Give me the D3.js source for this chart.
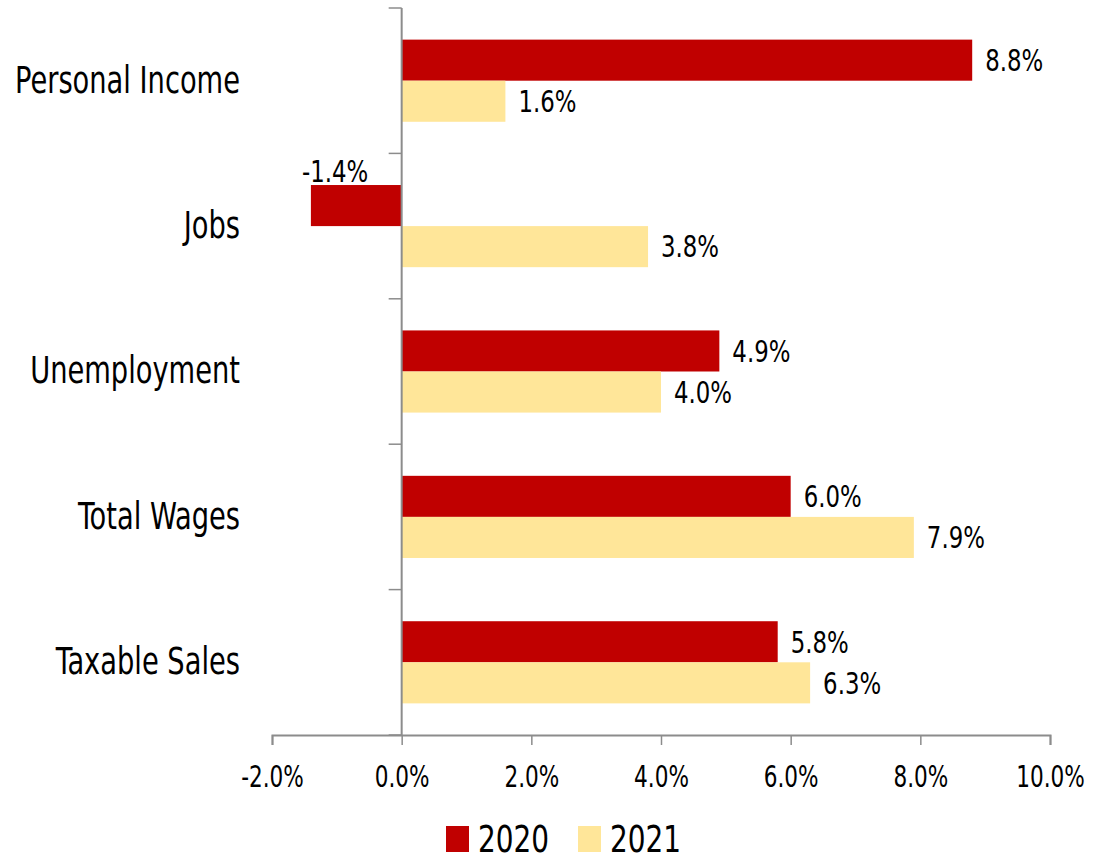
<!DOCTYPE html>
<html lang="en">
<head>
	<meta charset="UTF-8">
	<title>Economic indicators</title>
	<style type="text/css">
		body { margin: 0; background: #fff; }
		svg text { font-family: "DejaVu Sans Condensed", "Liberation Sans Narrow", sans-serif; fill: #000; }
	</style>
</head>
<body>
	<script type="text/javascript" src="https://cdn.jsdelivr.net/npm/d3@7/dist/d3.min.js"></script>
	<script type="text/javascript">
		var categories = ['Personal Income', 'Jobs', 'Unemployment', 'Total Wages', 'Taxable Sales'];
		var series = ['2020', '2021'];
		var values2020 = [8.8, -1.4, 4.9, 6.0, 5.8];
		var values2021 = [1.6, 3.8, 4.0, 7.9, 6.3];
		var xTicks = [-2, 0, 2, 4, 6, 8, 10];
		var colors = ['#c00000', '#ffe699'];

		var w = 1101;
		var h = 854;

		// the original font is a narrow one, squeeze the text horizontally
		function squeeze(sel, sx) {
			sel.each(function () {
				var t = d3.select(this);
				var tx = +t.attr('x') || 0;
				var ty = +t.attr('y') || 0;
				t.attr('x', 0).attr('y', 0)
				 .attr('transform', 'translate(' + tx + ',' + ty + ') scale(' + sx + ',1)');
			});
		}

		var svg = d3.select('body')
					.append('svg')
					.attr('width', w)
					.attr('height', h);

		var x = d3.scaleLinear().domain([-2, 10]).range([272, 1050]);
		var y = d3.scaleBand().domain(categories).range([8, 735]).paddingInner(0.435).paddingOuter(0.2175);
		var ySub = d3.scaleBand().domain(series).range([0, y.bandwidth()]);

		var rows = categories.map(function (c, i) {
			return {cat: c, vals: [values2020[i], values2021[i]]};
		});

		// x axis
		var xAxis = d3.axisBottom(x)
					.tickValues(xTicks)
					.tickSize(10)
					.tickFormat(function (d) { return d.toFixed(1) + '%'; });
		var gx = svg.append('g')
					.attr('transform', 'translate(0,735)')
					.call(xAxis);
		gx.select('.domain').attr('stroke', '#8c8c8c').attr('stroke-width', 2);
		gx.selectAll('.tick line').attr('stroke', '#8c8c8c').attr('stroke-width', 1.5);
		gx.selectAll('.tick text')
			.attr('font-size', '30px')
			.attr('y', 41)
			.attr('dy', '0.35em');
		squeeze(gx.selectAll('.tick text'), 0.8);

		// bars
		var groups = svg.selectAll('g.row')
					.data(rows)
					.enter()
					.append('g')
					.attr('class', 'row')
					.attr('transform', function (d) { return 'translate(0,' + y(d.cat) + ')'; });

		groups.selectAll('rect')
			.data(function (d) { return d.vals; })
			.enter()
			.append('rect')
			.attr('x', function (d) { return x(Math.min(0, d)); })
			.attr('y', function (d, i) { return ySub(series[i]); })
			.attr('width', function (d) { return Math.abs(x(d) - x(0)); })
			.attr('height', ySub.bandwidth())
			.attr('fill', function (d, i) { return colors[i]; });

		var vals = groups.selectAll('text.val')
			.data(function (d) { return d.vals; })
			.enter()
			.append('text')
			.attr('class', 'val')
			.attr('font-size', '31px')
			.attr('x', function (d) { return d < 0 ? x(d) - 9 : x(d) + 13; })
			.attr('y', function (d, i) {
				return d < 0 ? ySub(series[i]) - 14 : ySub(series[i]) + ySub.bandwidth() / 2;
			})
			.attr('dy', '0.35em')
			.text(function (d) { return d.toFixed(1) + '%'; });
		squeeze(vals, 0.82);

		// y axis
		var yAxis = d3.axisLeft(y).tickSize(0).tickPadding(162);
		var gy = svg.append('g')
					.attr('transform', 'translate(' + x(0) + ',0)')
					.call(yAxis);
		gy.select('.domain').remove();
		gy.append('line')
			.attr('x1', 0).attr('x2', 0)
			.attr('y1', 8).attr('y2', 735)
			.attr('stroke', '#8c8c8c').attr('stroke-width', 2);
		var bounds = d3.range(categories.length + 1).map(function (i) { return 8 + i * y.step(); });
		gy.selectAll('line.bt')
			.data(bounds)
			.enter()
			.append('line')
			.attr('class', 'bt')
			.attr('x1', -13).attr('x2', 0)
			.attr('y1', function (d) { return d; })
			.attr('y2', function (d) { return d; })
			.attr('stroke', '#8c8c8c').attr('stroke-width', 1.5);
		gy.selectAll('.tick text')
			.attr('font-size', '37px')
			.attr('x', 240 - x(0))
			.attr('y', 0);
		squeeze(gy.selectAll('.tick text'), 0.82);

		// legend
		var legend = svg.selectAll('g.legend')
					.data(series)
					.enter()
					.append('g')
					.attr('class', 'legend')
					.attr('transform', function (d, i) { return 'translate(' + (446 + i * 132) + ',826)'; });
		legend.append('rect')
			.attr('width', 23)
			.attr('height', 26)
			.attr('fill', function (d, i) { return colors[i]; });
		var legText = legend.append('text')
			.attr('x', 32)
			.attr('y', 13)
			.attr('dy', '0.35em')
			.attr('font-size', '37px')
			.text(function (d) { return d; });
		squeeze(legText, 0.84);
	</script>
</body>
</html>
